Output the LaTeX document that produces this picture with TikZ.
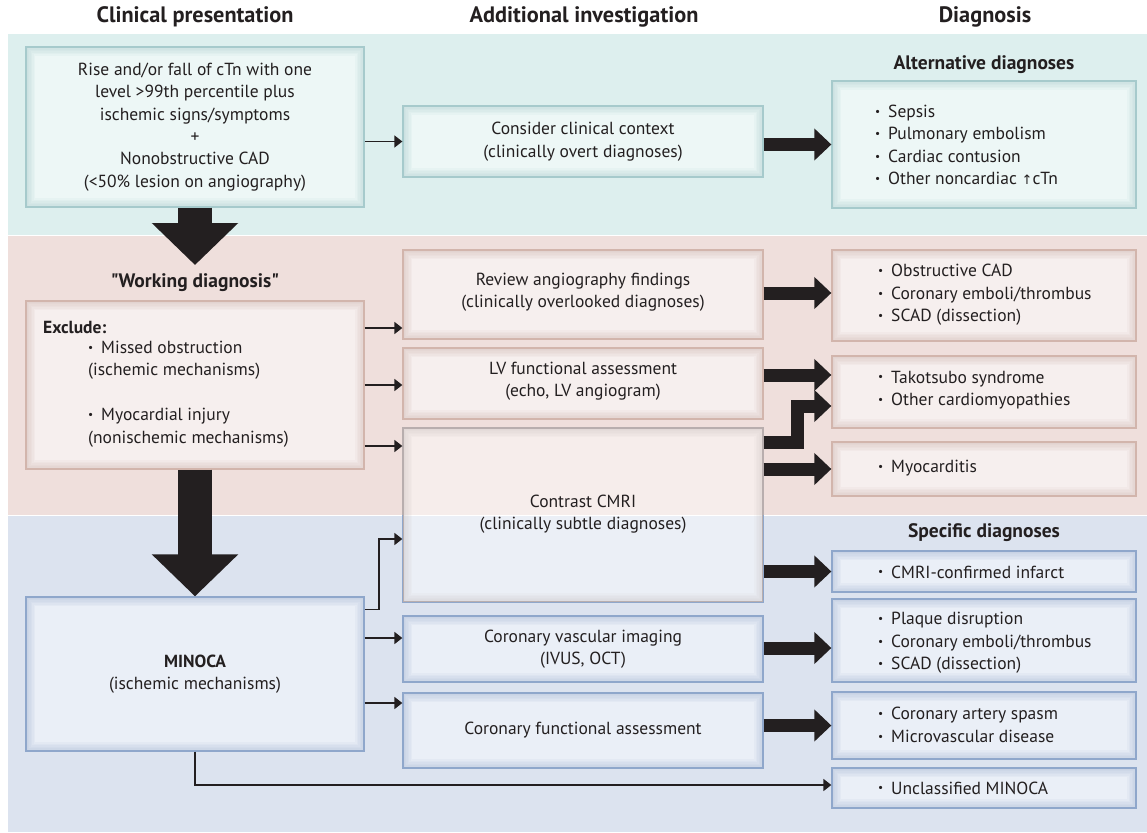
\documentclass[tikz,border=0pt]{standalone}
\usepackage{fontspec}
\setmainfont{PT Sans}
\newfontfamily\qf{PT Sans}
\newfontfamily\symf{DejaVu Sans}
\usepackage{graphicx}
\usetikzlibrary{arrows.meta}
\definecolor{txt}{HTML}{231F20}
\definecolor{arr}{HTML}{231F20}
\definecolor{tealBand}{HTML}{DDEFEE}
\definecolor{tealF}{HTML}{EDF7F6}
\definecolor{tealB}{HTML}{A6CACC}
\definecolor{tealS}{HTML}{9FC4C4}
\definecolor{pinkBand}{HTML}{EFDFDC}
\definecolor{pinkF}{HTML}{F6EFEE}
\definecolor{pinkB}{HTML}{D2B5AC}
\definecolor{pinkS}{HTML}{C9ADA6}
\definecolor{blueBand}{HTML}{DCE3EF}
\definecolor{blueF}{HTML}{EAEFF7}
\definecolor{blueB}{HTML}{8FA7CB}
\definecolor{blueS}{HTML}{9AAECF}
\definecolor{cmriB}{HTML}{B8AEAE}
\definecolor{cmriS}{HTML}{C8C0C0}
\newcommand\bul{\raisebox{0.25ex}{\scalebox{0.65}{•}}\hspace{0.45em}}
\newcommand\sq{{\qf\bfseries"}}
\begin{document}
\begin{tikzpicture}[x=1pt,y=-1pt,
  font=\fontsize{17.5}{22.4}\selectfont,
  every node/.style={text=txt},
  glow/.style={path picture={\foreach \k in {3,6,...,18}{\draw[line width=\k pt, draw=#1, draw opacity=0.08] (path picture bounding box.south west) rectangle (path picture bounding box.north east);}}},
  sz/.style 2 args={minimum width=#1pt, minimum height=#2pt},
  boxbase/.style={line width=1.3pt, inner sep=0pt, align=center},
  tbox/.style={boxbase, draw=tealB, fill=tealF, glow=tealS},
  pbox/.style={boxbase, draw=pinkB, fill=pinkF, glow=pinkS},
  bbox/.style={boxbase, draw=blueB, fill=blueF, glow=blueS},
  hdr/.style={font=\bfseries\fontsize{22.3}{26}\selectfont},
  subhdr/.style={font=\bfseries\fontsize{19.5}{23}\selectfont},
  lst/.style={anchor=west, align=left, inner sep=0pt},
  fat/.style={line width=13pt, draw=arr, -{Triangle[length=17pt,width=31pt]}},
  big/.style={line width=34pt, draw=arr, -{Triangle[length=42pt,width=84pt]}},
  thinar/.style={line width=1.7pt, draw=arr, line join=miter, -{Triangle[length=8pt,width=12pt]}}
]
\useasboundingbox (0,0) rectangle (1147,832);
% bands
\fill[tealBand] (8,34) rectangle (1147,234.5);
\fill[pinkBand] (8,235.5) rectangle (1147,514.5);
\fill[blueBand] (8,515.5) rectangle (1147,832);

% headers
\node[hdr] (h1) at (195,17) {Clinical presentation};
\node[hdr] (h2) at (584,17) {Additional investigation};
\node[hdr] (h3) at (985,17) {Diagnosis};
\node[subhdr] (h4) at (984,65) {Alternative diagnoses};
\node[subhdr] (h5) at (195,283) {\sq Working diagnosis\sq};
\node[subhdr] (h6) at (984,533) {Specific diagnoses};

% column 1
\node[tbox, sz={338}{160}] (pres) at (195,127) {Rise and/or fall of cTn with one\\level >99th percentile plus\\ischemic signs/symptoms\\+\\Nonobstructive CAD\\(<50\% lesion on angiography)};
\node[pbox, sz={338}{168}] (excl) at (195,385) {};
\node[lst, font=\bfseries\fontsize{17.5}{22.4}\selectfont] (exh) at (43,327) {Exclude:};
\node[lst] (exl) at (88,394) {\bul Missed obstruction\\(ischemic mechanisms)\\[22.4pt]\bul Myocardial injury\\(nonischemic mechanisms)};
\node[bbox, sz={338}{154}] (minoca) at (195,674) {\textbf{MINOCA}\\(ischemic mechanisms)};

% column 2
\node[tbox, sz={360}{71}] (consider) at (583,141.5) {Consider clinical context\\(clinically overt diagnoses)};
\node[pbox, sz={360}{89}] (review) at (583,294.5) {};
\node (reviewt) at (583,292.5) [align=center] {Review angiography findings\\(clinically overlooked diagnoses)};
\node[pbox, sz={360}{71}] (lv) at (583,383.5) {};
\node (lvt) at (583,381) [align=center] {LV functional assessment\\(echo, LV angiogram)};
\node[boxbase, sz={360}{174}, draw=cmriB, fill=white, fill opacity=0.45, glow=cmriS] (cmri) at (583,515) {};
\begin{scope}
  \clip (0,515.5) rectangle (1147,832);
  \draw[blueB, line width=1.3pt] (cmri.north west) rectangle (cmri.south east);
\end{scope}
\node (cmrit) at (583,514) [align=center] {Contrast CMRI\\(clinically subtle diagnoses)};
\node[bbox, sz={360}{66}] (vasc) at (583,649) {Coronary vascular imaging\\(IVUS, OCT)};
\node[bbox, sz={360}{75}] (func) at (583,730.5) {Coronary functional assessment};

% column 3
\node[tbox, sz={304}{127}] (alt) at (984,144.5) {};
\node[lst] (altt) at (875,145) {\bul Sepsis\\\bul Pulmonary embolism\\\bul Cardiac contusion\\\bul Other noncardiac {\symf\fontsize{13}{13}\selectfont↑}cTn};
\node[pbox, sz={304}{91}] (obst) at (984,295.5) {};
\node[lst] (obstt) at (878,295) {\bul Obstructive CAD\\\bul Coronary emboli/thrombus\\\bul SCAD (dissection)};
\node[pbox, sz={304}{72}] (tako) at (984,392) {};
\node[lst] (takot) at (878,390) {\bul Takotsubo syndrome\\\bul Other cardiomyopathies};
\node[pbox, sz={304}{54}] (myo) at (984,469) {};
\node[lst] (myot) at (878,468) {\bul Myocarditis};
\node[bbox, sz={304}{41}] (conf) at (984,571.5) {};
\node[lst] (conft) at (878,572) {\bul CMRI-confirmed infarct};
\node[bbox, sz={304}{83}] (plaq) at (984,640.5) {};
\node[lst] (plaqt) at (878,643) {\bul Plaque disruption\\\bul Coronary emboli/thrombus\\\bul SCAD (dissection)};
\node[bbox, sz={304}{67}] (spas) at (984,725.5) {};
\node[lst] (spast) at (878,725) {\bul Coronary artery spasm\\\bul Microvascular disease};
\node[bbox, sz={304}{40}] (uncl) at (984,788) {};
\node[lst] (unclt) at (878,788) {\bul Unclassified MINOCA};

% big arrows
\coordinate (tip1) at (195,265);
\draw[big] (pres.south) -- (tip1);
\draw[big] (excl.south) -- (minoca.north);

% thin arrows
\draw[thinar] (pres.east |- consider.west) -- (consider.west);
\draw[thinar] ([yshift=57pt]excl.east) -- ([yshift=57pt]excl.east -| review.west);
\draw[thinar] (excl.east) -- (excl.east -| lv.west);
\draw[thinar] ([yshift=-61pt]excl.east) -- ([yshift=-61pt]excl.east -| cmri.west);
\draw[thinar] ([yshift=-13pt]minoca.north east) -- ++(14,0) |- ([yshift=-24pt]cmri.west);
\draw[thinar] ([yshift=11pt]minoca.east |- vasc.west) -- ([yshift=11pt]vasc.west);
\draw[thinar] ([yshift=27.5pt]minoca.east |- func.west) -- ([yshift=27.5pt]func.west);
\draw[thinar] (minoca.south) |- ([yshift=3pt]uncl.west);

% fat arrows
\draw[fat] ([yshift=-3pt]consider.east) -- ([yshift=-3pt]consider.east -| alt.west);
\draw[fat] ([yshift=1.5pt]review.east) -- ([yshift=1.5pt]review.east -| obst.west);
\draw[fat] ([yshift=8.5pt]lv.east) -- ([yshift=8.5pt]lv.east -| tako.west);
\draw[fat, line join=miter] ([yshift=73pt]cmri.east) -- ++(34,0) |- ([yshift=-14pt]tako.west);
\draw[fat] (cmri.east |- myo.west) -- (myo.west);
\draw[fat] (cmri.east |- conf.west) -- (conf.west);
\draw[fat] ([yshift=1pt]vasc.east) -- ([yshift=1pt]vasc.east -| plaq.west);
\draw[fat] (func.east |- spas.west) -- (spas.west);
\end{tikzpicture}
\end{document}
